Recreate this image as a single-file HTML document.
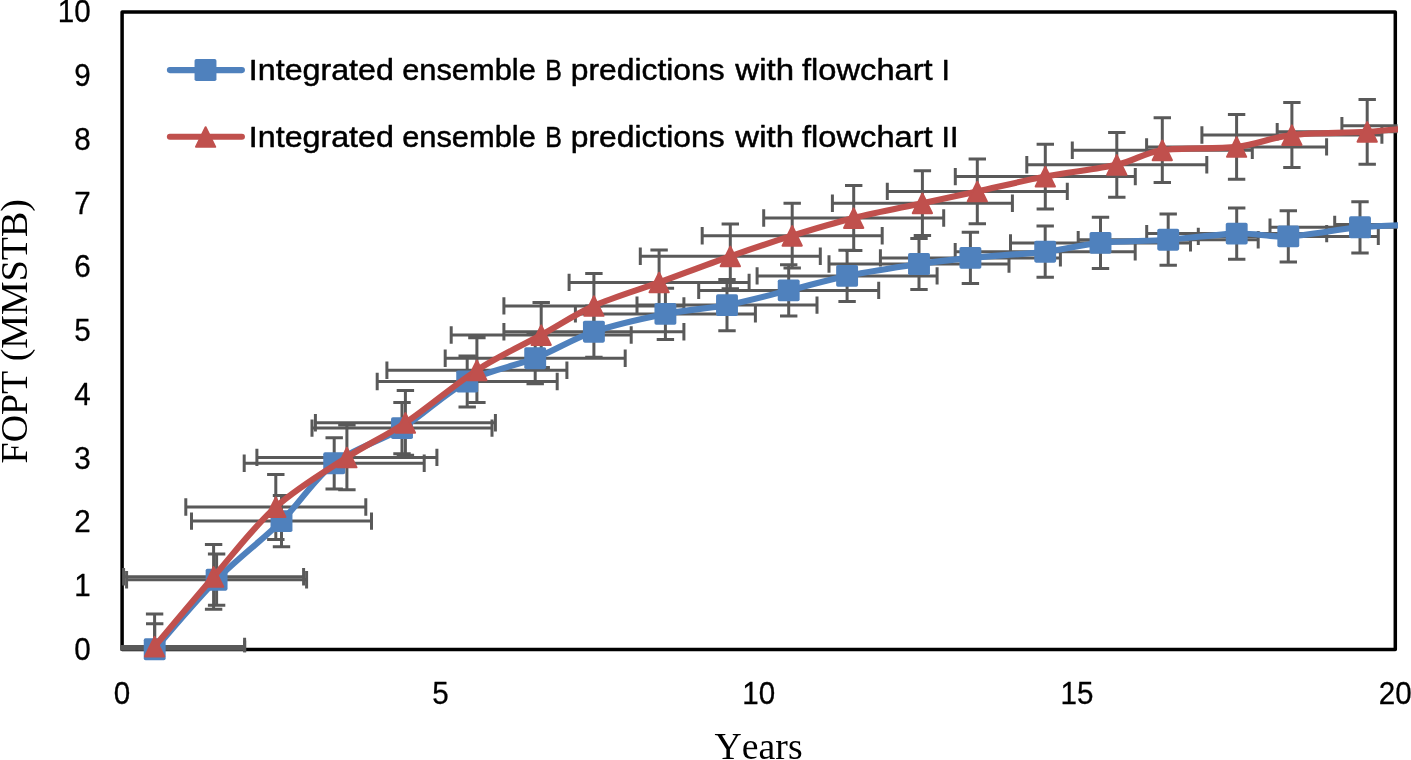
<!DOCTYPE html>
<html lang="en"><head><meta charset="utf-8"><title>FOPT vs Years</title>
<style>html,body{margin:0;padding:0;background:#fff;overflow:hidden}svg{display:block;will-change:transform;-webkit-font-smoothing:antialiased}.s{font-family:'Liberation Sans', sans-serif;font-size:30.4px;fill:#000;stroke:#000;stroke-width:.5px;stroke-linejoin:round}.d{font-family:'Liberation Sans', sans-serif;font-size:31px;fill:#000;stroke:#000;stroke-width:.3px;stroke-linejoin:round}.t{font-family:'Liberation Serif', serif;font-size:37px;fill:#000;font-kerning:none}</style></head><body>
<svg width="1411" height="760" viewBox="0 0 1411 760">
<rect width="1411" height="760" fill="#fff"/>
<defs><clipPath id="pc"><rect x="120.4" y="10" width="1277.2" height="642.3"/></clipPath><clipPath id="lc"><rect x="118" y="8" width="1280" height="660"/></clipPath></defs>
<rect x="122.1" y="12" width="1273.2" height="637.6" fill="none" stroke="#000" stroke-width="3.5" stroke-linejoin="round"/>
<text class="d" transform="translate(90.7 659.9) scale(0.955 1)" text-anchor="end">0</text>
<text class="d" transform="translate(90.7 596.14) scale(0.955 1)" text-anchor="end">1</text>
<text class="d" transform="translate(90.7 532.38) scale(0.955 1)" text-anchor="end">2</text>
<text class="d" transform="translate(90.7 468.62) scale(0.955 1)" text-anchor="end">3</text>
<text class="d" transform="translate(90.7 404.86) scale(0.955 1)" text-anchor="end">4</text>
<text class="d" transform="translate(90.7 341.1) scale(0.955 1)" text-anchor="end">5</text>
<text class="d" transform="translate(90.7 277.34) scale(0.955 1)" text-anchor="end">6</text>
<text class="d" transform="translate(90.7 213.58) scale(0.955 1)" text-anchor="end">7</text>
<text class="d" transform="translate(90.7 149.82) scale(0.955 1)" text-anchor="end">8</text>
<text class="d" transform="translate(90.7 86.06) scale(0.955 1)" text-anchor="end">9</text>
<text class="d" transform="translate(90.7 22.3) scale(0.955 1)" text-anchor="end">10</text>
<text class="d" transform="translate(122.1 703.8) scale(0.955 1)" text-anchor="middle">0</text>
<text class="d" transform="translate(440.4 703.8) scale(0.955 1)" text-anchor="middle">5</text>
<text class="d" transform="translate(758.7 703.8) scale(0.955 1)" text-anchor="middle">10</text>
<text class="d" transform="translate(1077 703.8) scale(0.955 1)" text-anchor="middle">15</text>
<text class="d" transform="translate(1395.3 703.8) scale(0.955 1)" text-anchor="middle">20</text>
<text class="t" x="758.6" y="759.2" text-anchor="middle" textLength="88" lengthAdjust="spacingAndGlyphs">Years</text>
<text class="t" transform="translate(26.7 331.3) rotate(-90)" text-anchor="middle" textLength="264.2" lengthAdjust="spacingAndGlyphs">FOPT (MMSTB)</text>
<g clip-path="url(#pc)"><path d="M64.7 649.3H244.7M64.7 640.6V658M244.7 640.6V658M154.7 623.7V674.9M146 623.7H163.4M146 674.9H163.4M126.6 579.7H306.6M126.6 571V588.4M306.6 571V588.4M216.6 554.1V605.3M207.9 554.1H225.3M207.9 605.3H225.3M191.5 521.1H371.5M191.5 512.4V529.8M371.5 512.4V529.8M281.5 495.5V546.7M272.8 495.5H290.2M272.8 546.7H290.2M244.2 463.3H424.2M244.2 454.6V472M424.2 454.6V472M334.2 437.7V488.9M325.5 437.7H342.9M325.5 488.9H342.9M312 428.1H492M312 419.4V436.8M492 419.4V436.8M402 402.5V453.7M393.3 402.5H410.7M393.3 453.7H410.7M377.2 381.5H557.2M377.2 372.8V390.2M557.2 372.8V390.2M467.2 355.9V407.1M458.5 355.9H475.9M458.5 407.1H475.9M445.2 358.2H625.2M445.2 349.5V366.9M625.2 349.5V366.9M535.2 332.6V383.8M526.5 332.6H543.9M526.5 383.8H543.9M503.9 331.7H683.9M503.9 323V340.4M683.9 323V340.4M593.9 306.1V357.3M585.2 306.1H602.6M585.2 357.3H602.6M575.4 313.9H755.4M575.4 305.2V322.6M755.4 305.2V322.6M665.4 288.3V339.5M656.7 288.3H674.1M656.7 339.5H674.1M637 305.1H817M637 296.4V313.8M817 296.4V313.8M727 279.5V330.7M718.3 279.5H735.7M718.3 330.7H735.7M698.7 290.4H878.7M698.7 281.7V299.1M878.7 281.7V299.1M788.7 264.8V316M780 264.8H797.4M780 316H797.4M757.1 275.9H937.1M757.1 267.2V284.6M937.1 267.2V284.6M847.1 250.3V301.5M838.4 250.3H855.8M838.4 301.5H855.8M829 264H1009M829 255.3V272.7M1009 255.3V272.7M919 238.4V289.6M910.3 238.4H927.7M910.3 289.6H927.7M880.4 257.9H1060.4M880.4 249.2V266.6M1060.4 249.2V266.6M970.4 232.3V283.5M961.7 232.3H979.1M961.7 283.5H979.1M955.2 251.7H1135.2M955.2 243V260.4M1135.2 243V260.4M1045.2 226.1V277.3M1036.5 226.1H1053.9M1036.5 277.3H1053.9M1010.5 242.9H1190.5M1010.5 234.2V251.6M1190.5 234.2V251.6M1100.5 217.3V268.5M1091.8 217.3H1109.2M1091.8 268.5H1109.2M1078.2 239.7H1258.2M1078.2 231V248.4M1258.2 231V248.4M1168.2 214.1V265.3M1159.5 214.1H1176.9M1159.5 265.3H1176.9M1146.7 233.6H1326.7M1146.7 224.9V242.3M1326.7 224.9V242.3M1236.7 208V259.2M1228 208H1245.4M1228 259.2H1245.4M1198.3 236.4H1378.3M1198.3 227.7V245.1M1378.3 227.7V245.1M1288.3 210.8V262M1279.6 210.8H1297M1279.6 262H1297M1270 227.3H1450M1270 218.6V236M1450 218.6V236M1360 201.7V252.9M1351.3 201.7H1368.7M1351.3 252.9H1368.7M1334.7 224.4H1514.7M1334.7 215.7V233.1M1514.7 215.7V233.1M1424.7 198.8V250M1416 198.8H1433.4M1416 250H1433.4" fill="none" stroke="#595959" stroke-width="3"/><path d="M64.6 646.5H244.6M64.6 637.8V655.2M244.6 637.8V655.2M154.6 614.1V678.9M145.9 614.1H163.3M145.9 678.9H163.3M123.6 576.8H303.6M123.6 568.1V585.5M303.6 568.1V585.5M213.6 544.4V609.2M204.9 544.4H222.3M204.9 609.2H222.3M185.8 507H365.8M185.8 498.3V515.7M365.8 498.3V515.7M275.8 474.6V539.4M267.1 474.6H284.5M267.1 539.4H284.5M256.9 457.4H436.9M256.9 448.7V466.1M436.9 448.7V466.1M346.9 425V489.8M338.2 425H355.6M338.2 489.8H355.6M315.4 422.8H495.4M315.4 414.1V431.5M495.4 414.1V431.5M405.4 390.4V455.2M396.7 390.4H414.1M396.7 455.2H414.1M386.9 370.2H566.9M386.9 361.5V378.9M566.9 361.5V378.9M476.9 337.8V402.6M468.2 337.8H485.6M468.2 402.6H485.6M451.2 335H631.2M451.2 326.3V343.7M631.2 326.3V343.7M541.2 302.6V367.4M532.5 302.6H549.9M532.5 367.4H549.9M503.9 305.9H683.9M503.9 297.2V314.6M683.9 297.2V314.6M593.9 273.5V338.3M585.2 273.5H602.6M585.2 338.3H602.6M569.1 282.4H749.1M569.1 273.7V291.1M749.1 273.7V291.1M659.1 250V314.8M650.4 250H667.8M650.4 314.8H667.8M640.3 256.3H820.3M640.3 247.6V265M820.3 247.6V265M730.3 223.9V288.7M721.6 223.9H739M721.6 288.7H739M702.2 235.7H882.2M702.2 227V244.4M882.2 227V244.4M792.2 203.3V268.1M783.5 203.3H800.9M783.5 268.1H800.9M763.7 218H943.7M763.7 209.3V226.7M943.7 209.3V226.7M853.7 185.6V250.4M845 185.6H862.4M845 250.4H862.4M832.4 203.2H1012.4M832.4 194.5V211.9M1012.4 194.5V211.9M922.4 170.8V235.6M913.7 170.8H931.1M913.7 235.6H931.1M887.3 191.4H1067.3M887.3 182.7V200.1M1067.3 182.7V200.1M977.3 159V223.8M968.6 159H986M968.6 223.8H986M955.3 176.6H1135.3M955.3 167.9V185.3M1135.3 167.9V185.3M1045.3 144.2V209M1036.6 144.2H1054M1036.6 209H1054M1026.8 164.8H1206.8M1026.8 156.1V173.5M1206.8 156.1V173.5M1116.8 132.4V197.2M1108.1 132.4H1125.5M1108.1 197.2H1125.5M1072.3 150.2H1252.3M1072.3 141.5V158.9M1252.3 141.5V158.9M1162.3 117.8V182.6M1153.6 117.8H1171M1153.6 182.6H1171M1146.6 146.9H1326.6M1146.6 138.2V155.6M1326.6 138.2V155.6M1236.6 114.5V179.3M1227.9 114.5H1245.3M1227.9 179.3H1245.3M1201.9 135H1381.9M1201.9 126.3V143.7M1381.9 126.3V143.7M1291.9 102.6V167.4M1283.2 102.6H1300.6M1283.2 167.4H1300.6M1277.2 131.8H1457.2M1277.2 123.1V140.5M1457.2 123.1V140.5M1367.2 99.4V164.2M1358.5 99.4H1375.9M1358.5 164.2H1375.9M1341.9 125.8H1521.9M1341.9 117.1V134.5M1521.9 117.1V134.5M1431.9 93.4V158.2M1423.2 93.4H1440.6M1423.2 158.2H1440.6" fill="none" stroke="#595959" stroke-width="3"/></g>
<g clip-path="url(#lc)"><path d="M154.7 649.3C165.02 637.7 195.47 601.07 216.6 579.7C237.73 558.33 261.9 540.5 281.5 521.1C301.1 501.7 314.12 478.8 334.2 463.3C354.28 447.8 379.83 441.73 402 428.1C424.17 414.47 445 393.15 467.2 381.5C489.4 369.85 514.08 366.5 535.2 358.2C556.32 349.9 572.2 339.08 593.9 331.7C615.6 324.32 643.22 318.33 665.4 313.9C687.58 309.47 706.45 309.02 727 305.1C747.55 301.18 768.68 295.27 788.7 290.4C808.72 285.53 825.38 280.3 847.1 275.9C868.82 271.5 898.45 267 919 264C939.55 261 949.37 259.95 970.4 257.9C991.43 255.85 1023.52 254.2 1045.2 251.7C1066.88 249.2 1080 244.9 1100.5 242.9C1121 240.9 1145.5 241.25 1168.2 239.7C1190.9 238.15 1216.68 234.15 1236.7 233.6C1256.72 233.05 1267.75 237.45 1288.3 236.4C1308.85 235.35 1337.27 229.3 1360 227.3C1382.73 225.3 1413.92 224.88 1424.7 224.4" fill="none" stroke="#4F81BD" stroke-width="6.1" stroke-linejoin="round" stroke-linecap="round"/></g>
<rect x="143.75" y="638.35" width="21.9" height="21.9" rx="1.8" fill="#4F81BD"/><rect x="205.65" y="568.75" width="21.9" height="21.9" rx="1.8" fill="#4F81BD"/><rect x="270.55" y="510.15" width="21.9" height="21.9" rx="1.8" fill="#4F81BD"/><rect x="323.25" y="452.35" width="21.9" height="21.9" rx="1.8" fill="#4F81BD"/><rect x="391.05" y="417.15" width="21.9" height="21.9" rx="1.8" fill="#4F81BD"/><rect x="456.25" y="370.55" width="21.9" height="21.9" rx="1.8" fill="#4F81BD"/><rect x="524.25" y="347.25" width="21.9" height="21.9" rx="1.8" fill="#4F81BD"/><rect x="582.95" y="320.75" width="21.9" height="21.9" rx="1.8" fill="#4F81BD"/><rect x="654.45" y="302.95" width="21.9" height="21.9" rx="1.8" fill="#4F81BD"/><rect x="716.05" y="294.15" width="21.9" height="21.9" rx="1.8" fill="#4F81BD"/><rect x="777.75" y="279.45" width="21.9" height="21.9" rx="1.8" fill="#4F81BD"/><rect x="836.15" y="264.95" width="21.9" height="21.9" rx="1.8" fill="#4F81BD"/><rect x="908.05" y="253.05" width="21.9" height="21.9" rx="1.8" fill="#4F81BD"/><rect x="959.45" y="246.95" width="21.9" height="21.9" rx="1.8" fill="#4F81BD"/><rect x="1034.25" y="240.75" width="21.9" height="21.9" rx="1.8" fill="#4F81BD"/><rect x="1089.55" y="231.95" width="21.9" height="21.9" rx="1.8" fill="#4F81BD"/><rect x="1157.25" y="228.75" width="21.9" height="21.9" rx="1.8" fill="#4F81BD"/><rect x="1225.75" y="222.65" width="21.9" height="21.9" rx="1.8" fill="#4F81BD"/><rect x="1277.35" y="225.45" width="21.9" height="21.9" rx="1.8" fill="#4F81BD"/><rect x="1349.05" y="216.35" width="21.9" height="21.9" rx="1.8" fill="#4F81BD"/>
<g clip-path="url(#lc)"><path d="M154.6 646.5C164.43 634.88 193.4 600.05 213.6 576.8C233.8 553.55 253.58 526.9 275.8 507C298.02 487.1 325.3 471.43 346.9 457.4C368.5 443.37 383.73 437.33 405.4 422.8C427.07 408.27 454.27 384.83 476.9 370.2C499.53 355.57 521.7 345.72 541.2 335C560.7 324.28 574.25 314.67 593.9 305.9C613.55 297.13 636.37 290.67 659.1 282.4C681.83 274.13 708.12 264.08 730.3 256.3C752.48 248.52 771.63 242.08 792.2 235.7C812.77 229.32 832 223.42 853.7 218C875.4 212.58 901.8 207.63 922.4 203.2C943 198.77 956.82 195.83 977.3 191.4C997.78 186.97 1022.05 181.03 1045.3 176.6C1068.55 172.17 1097.3 169.2 1116.8 164.8C1136.3 160.4 1142.33 153.18 1162.3 150.2C1182.27 147.22 1215 149.43 1236.6 146.9C1258.2 144.37 1270.13 137.52 1291.9 135C1313.67 132.48 1343.87 133.33 1367.2 131.8C1390.53 130.27 1421.12 126.8 1431.9 125.8" fill="none" stroke="#C0504D" stroke-width="6.1" stroke-linejoin="round" stroke-linecap="round"/></g>
<path d="M154.6 636.85L164.25 656.45H144.95Z" fill="#C0504D" stroke="#C0504D" stroke-width="2" stroke-linejoin="round"/><path d="M213.6 567.15L223.25 586.75H203.95Z" fill="#C0504D" stroke="#C0504D" stroke-width="2" stroke-linejoin="round"/><path d="M275.8 497.35L285.45 516.95H266.15Z" fill="#C0504D" stroke="#C0504D" stroke-width="2" stroke-linejoin="round"/><path d="M346.9 447.75L356.55 467.35H337.25Z" fill="#C0504D" stroke="#C0504D" stroke-width="2" stroke-linejoin="round"/><path d="M405.4 413.15L415.05 432.75H395.75Z" fill="#C0504D" stroke="#C0504D" stroke-width="2" stroke-linejoin="round"/><path d="M476.9 360.55L486.55 380.15H467.25Z" fill="#C0504D" stroke="#C0504D" stroke-width="2" stroke-linejoin="round"/><path d="M541.2 325.35L550.85 344.95H531.55Z" fill="#C0504D" stroke="#C0504D" stroke-width="2" stroke-linejoin="round"/><path d="M593.9 296.25L603.55 315.85H584.25Z" fill="#C0504D" stroke="#C0504D" stroke-width="2" stroke-linejoin="round"/><path d="M659.1 272.75L668.75 292.35H649.45Z" fill="#C0504D" stroke="#C0504D" stroke-width="2" stroke-linejoin="round"/><path d="M730.3 246.65L739.95 266.25H720.65Z" fill="#C0504D" stroke="#C0504D" stroke-width="2" stroke-linejoin="round"/><path d="M792.2 226.05L801.85 245.65H782.55Z" fill="#C0504D" stroke="#C0504D" stroke-width="2" stroke-linejoin="round"/><path d="M853.7 208.35L863.35 227.95H844.05Z" fill="#C0504D" stroke="#C0504D" stroke-width="2" stroke-linejoin="round"/><path d="M922.4 193.55L932.05 213.15H912.75Z" fill="#C0504D" stroke="#C0504D" stroke-width="2" stroke-linejoin="round"/><path d="M977.3 181.75L986.95 201.35H967.65Z" fill="#C0504D" stroke="#C0504D" stroke-width="2" stroke-linejoin="round"/><path d="M1045.3 166.95L1054.95 186.55H1035.65Z" fill="#C0504D" stroke="#C0504D" stroke-width="2" stroke-linejoin="round"/><path d="M1116.8 155.15L1126.45 174.75H1107.15Z" fill="#C0504D" stroke="#C0504D" stroke-width="2" stroke-linejoin="round"/><path d="M1162.3 140.55L1171.95 160.15H1152.65Z" fill="#C0504D" stroke="#C0504D" stroke-width="2" stroke-linejoin="round"/><path d="M1236.6 137.25L1246.25 156.85H1226.95Z" fill="#C0504D" stroke="#C0504D" stroke-width="2" stroke-linejoin="round"/><path d="M1291.9 125.35L1301.55 144.95H1282.25Z" fill="#C0504D" stroke="#C0504D" stroke-width="2" stroke-linejoin="round"/><path d="M1367.2 122.15L1376.85 141.75H1357.55Z" fill="#C0504D" stroke="#C0504D" stroke-width="2" stroke-linejoin="round"/>
<line x1="169.9" y1="70.1" x2="241.9" y2="70.1" stroke="#4F81BD" stroke-width="6.1" stroke-linecap="round"/>
<rect x="194.55" y="59.05" width="21.9" height="21.9" rx="1.8" fill="#4F81BD"/>
<line x1="169.9" y1="136.8" x2="241.9" y2="136.8" stroke="#C0504D" stroke-width="6.1" stroke-linecap="round"/>
<path d="M205.6 127.25L215.25 146.85H195.95Z" fill="#C0504D" stroke="#C0504D" stroke-width="2" stroke-linejoin="round"/>
<text class="s" x="248.83" y="80" textLength="145.07" lengthAdjust="spacingAndGlyphs">Integrated</text><text class="s" x="402.19" y="80" textLength="133.59" lengthAdjust="spacingAndGlyphs">ensemble</text><text class="s" x="545.34" y="80" textLength="16.63" lengthAdjust="spacingAndGlyphs">B</text><text class="s" x="570.85" y="80" textLength="153.7" lengthAdjust="spacingAndGlyphs">predictions</text><text class="s" x="735.36" y="80" textLength="58.63" lengthAdjust="spacingAndGlyphs">with</text><text class="s" x="802" y="80" textLength="130.69" lengthAdjust="spacingAndGlyphs">flowchart</text><text class="s" x="941.6" y="80">I</text>
<text class="s" x="248.83" y="147" textLength="145.07" lengthAdjust="spacingAndGlyphs">Integrated</text><text class="s" x="402.19" y="147" textLength="133.59" lengthAdjust="spacingAndGlyphs">ensemble</text><text class="s" x="545.34" y="147" textLength="16.63" lengthAdjust="spacingAndGlyphs">B</text><text class="s" x="570.85" y="147" textLength="153.7" lengthAdjust="spacingAndGlyphs">predictions</text><text class="s" x="735.36" y="147" textLength="58.63" lengthAdjust="spacingAndGlyphs">with</text><text class="s" x="802" y="147" textLength="130.69" lengthAdjust="spacingAndGlyphs">flowchart</text><text class="s" x="941.6 949.9" y="147">II</text>
</svg></body></html>
